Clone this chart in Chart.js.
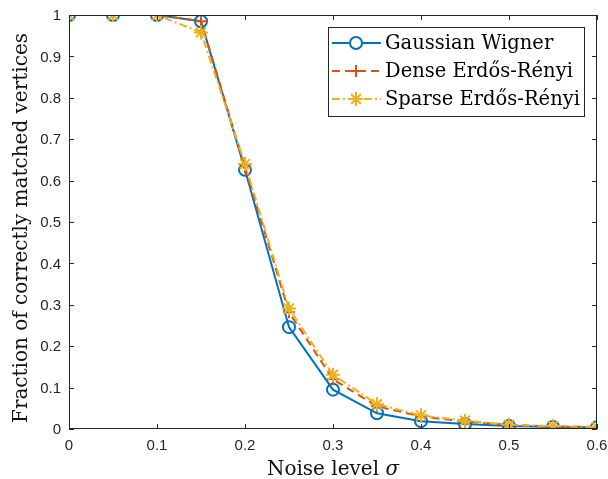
<!DOCTYPE html>
<html>
<head>
<meta charset="utf-8">
<script src="https://cdn.jsdelivr.net/npm/chart.js@4"></script>
<style>
  html, body { margin: 0; padding: 0; background: #fff; }
  #wrap { width: 608px; height: 479px; }
</style>
</head>
<body>
<div id="wrap"><canvas id="grafica"></canvas></div>
<script>
// valores
const nivelesRuido = [0, 0.05, 0.1, 0.15, 0.2, 0.25, 0.3, 0.35, 0.4, 0.45, 0.5, 0.55, 0.6];
const gaussianWigner = [1, 1, 1, 0.985, 0.626, 0.246, 0.095, 0.038, 0.019, 0.012, 0.007, 0.005, 0.004];
const denseER = [1, 1, 1, 0.985, 0.632, 0.282, 0.12, 0.055, 0.03, 0.018, 0.01, 0.006, 0.005];
const sparseER = [1, 1, 1, 0.958, 0.64, 0.291, 0.131, 0.06, 0.033, 0.02, 0.01, 0.007, 0.005];
const etiquetasSerie = ['Gaussian Wigner', 'Dense Erdős-Rényi', 'Sparse Erdős-Rényi'];
const tituloX = ['Noise level ', 'σ'];
const tituloY = 'Fraction of correctly matched vertices';

const azul = '#0072BD';
const naranja = '#D95319';
const amarillo = '#EDB120';
const grisEje = '#262626';
const fuenteSerif = '"DejaVu Serif", "Liberation Serif", serif';
const fuenteTicks = '"Liberation Sans", Arial, sans-serif';

function puntos(valores) {
  return valores.map((v, i) => ({ x: nivelesRuido[i], y: v }));
}

// formato tipo MATLAB: 0, 0.1, ..., 1
function formatoTick(valor) {
  return String(Math.round(valor * 10) / 10);
}

// caja estilo MATLAB con marcas hacia dentro y etiquetas de los ticks
const cajaEjes = {
  id: 'cajaEjes',
  afterDatasetsDraw(chart) {
    const { ctx, chartArea: a, scales } = chart;
    ctx.save();
    ctx.strokeStyle = grisEje;
    ctx.lineWidth = 1;
    ctx.strokeRect(a.left + 0.5, a.top + 0.5, a.right - a.left - 1, a.bottom - a.top - 1);
    ctx.beginPath();
    scales.x.ticks.forEach(t => {
      const px = Math.round(scales.x.getPixelForValue(t.value)) + 0.5;
      ctx.moveTo(px, a.bottom); ctx.lineTo(px, a.bottom - 5);
      ctx.moveTo(px, a.top); ctx.lineTo(px, a.top + 5);
    });
    scales.y.ticks.forEach(t => {
      const py = Math.round(scales.y.getPixelForValue(t.value)) + 0.5;
      ctx.moveTo(a.left, py); ctx.lineTo(a.left + 5, py);
      ctx.moveTo(a.right, py); ctx.lineTo(a.right - 5, py);
    });
    ctx.stroke();

    ctx.fillStyle = grisEje;
    ctx.font = '15px ' + fuenteTicks;
    ctx.textBaseline = 'middle';
    ctx.textAlign = 'center';
    scales.x.ticks.forEach(t => {
      ctx.fillText(formatoTick(t.value), scales.x.getPixelForValue(t.value), a.bottom + 17);
    });
    ctx.textAlign = 'right';
    scales.y.ticks.forEach(t => {
      ctx.fillText(formatoTick(t.value), a.left - 8, scales.y.getPixelForValue(t.value) + 1);
    });
    ctx.restore();
  }
};

// titulos de ejes (sigma en cursiva, como en LaTeX)
const titulosEjes = {
  id: 'titulosEjes',
  afterDraw(chart) {
    const { ctx, chartArea: a } = chart;
    ctx.save();
    ctx.fillStyle = '#111';
    ctx.textBaseline = 'alphabetic';
    ctx.font = '20px ' + fuenteSerif;
    const w1 = ctx.measureText(tituloX[0]).width;
    ctx.font = 'italic 20px ' + fuenteSerif;
    const w2 = ctx.measureText(tituloX[1]).width;
    const xc = (a.left + a.right) / 2;
    const x = xc - (w1 + w2) / 2;
    ctx.textAlign = 'left';
    ctx.font = '20px ' + fuenteSerif;
    ctx.fillText(tituloX[0], x, 475);
    ctx.font = 'italic 20px ' + fuenteSerif;
    ctx.fillText(tituloX[1], x + w1, 475);

    ctx.translate(27, (a.top + a.bottom) / 2 + 6);
    ctx.rotate(-Math.PI / 2);
    ctx.textAlign = 'center';
    ctx.font = '20px ' + fuenteSerif;
    ctx.fillText(tituloY, 0, 0);
    ctx.restore();
  }
};

// leyenda dentro del area de la grafica
const leyendaInterna = {
  id: 'leyendaInterna',
  afterDraw(chart) {
    const { ctx, chartArea: a } = chart;
    const ancho = 256, alto = 89;
    const x0 = a.right - 13 - ancho, y0 = a.top + 12;
    ctx.save();
    ctx.fillStyle = '#fff';
    ctx.fillRect(x0, y0, ancho, alto);
    ctx.strokeStyle = grisEje;
    ctx.lineWidth = 1;
    ctx.strokeRect(x0 + 0.5, y0 + 0.5, ancho, alto);
    ctx.font = '19.5px ' + fuenteSerif;
    ctx.textBaseline = 'middle';
    chart.data.datasets.forEach((ds, i) => {
      const yc = y0 + 16 + i * 28;
      ctx.strokeStyle = ds.borderColor;
      ctx.lineWidth = 2;
      ctx.setLineDash(ds.borderDash || []);
      ctx.beginPath();
      ctx.moveTo(x0 + 4, yc); ctx.lineTo(x0 + 53, yc);
      ctx.stroke();
      ctx.setLineDash([]);
      Chart.helpers.drawPoint(ctx, {
        pointStyle: ds.pointStyle, radius: ds.pointRadius, borderWidth: ds.pointBorderWidth
      }, x0 + 28, yc);
      ctx.fillStyle = '#000';
      ctx.fillText(ds.label, x0 + 57, yc + 1);
    });
    ctx.restore();
  }
};

const grafico = new Chart(document.getElementById('grafica'), {
  type: 'line',
  data: {
    datasets: [
      {
        label: etiquetasSerie[0], data: puntos(gaussianWigner),
        borderColor: azul, backgroundColor: 'rgba(0,0,0,0)', borderWidth: 2,
        pointStyle: 'circle', pointRadius: 6, pointBorderWidth: 2,
        pointBorderColor: azul, pointBackgroundColor: 'rgba(0,0,0,0)', order: 3
      },
      {
        label: etiquetasSerie[1], data: puntos(denseER),
        borderColor: naranja, backgroundColor: naranja, borderWidth: 2, borderDash: [8, 5],
        pointStyle: 'cross', pointRadius: 6, pointBorderWidth: 2,
        pointBorderColor: naranja, order: 2
      },
      {
        label: etiquetasSerie[2], data: puntos(sparseER),
        borderColor: amarillo, backgroundColor: amarillo, borderWidth: 2, borderDash: [8, 3, 2, 3],
        pointStyle: 'star', pointRadius: 7, pointBorderWidth: 2,
        pointBorderColor: amarillo, order: 1
      }
    ]
  },
  options: {
    responsive: true,
    maintainAspectRatio: false,
    animation: false,
    layout: { padding: { top: 15, right: 11, left: 0, bottom: 0 } },
    plugins: {
      legend: { display: false },
      tooltip: { enabled: false }
    },
    scales: {
      x: {
        type: 'linear', min: 0, max: 0.6,
        ticks: { stepSize: 0.1, display: false },
        grid: { display: false },
        border: { display: false },
        afterFit: escala => {
          escala.height = 50;
          escala.paddingLeft = 0;
          escala.paddingRight = 0;
        }
      },
      y: {
        min: 0, max: 1,
        ticks: { stepSize: 0.1, display: false },
        grid: { display: false },
        border: { display: false },
        afterFit: escala => {
          escala.width = 69;
          escala.paddingTop = 0;
          escala.paddingBottom = 0;
        }
      }
    }
  },
  plugins: [cajaEjes, titulosEjes, leyendaInterna]
});
</script>
</body>
</html>
